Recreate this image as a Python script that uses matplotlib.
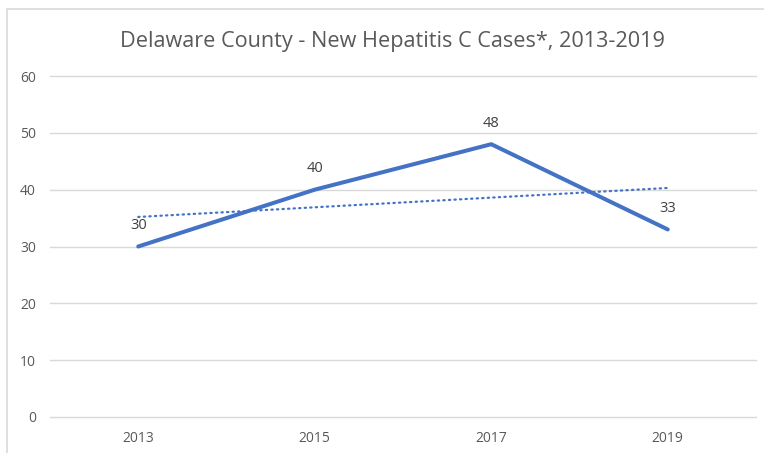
import numpy as np
from matplotlib import pyplot as plt
from matplotlib.patches import Rectangle

# Chart data
years = ["2013", "2015", "2017", "2019"]
cases = [30, 40, 48, 33]
y_ticks = [0, 10, 20, 30, 40, 50, 60]

LINE_BLUE = "#4472C4"
TEXT_GREY = "#595959"
GRID_GREY = "#D9D9D9"

plt.rcParams["font.family"] = ["Open Sans", "DejaVu Sans"]

fig = plt.figure(figsize=(7.64, 4.53), dpi=100)
W, H = 764, 453

# Chart frame (runs off the right and bottom edges)
fig.patches.append(Rectangle((7 / W, -0.1), 1.0, (H - 9) / H + 0.1,
                             transform=fig.transFigure, fill=False,
                             edgecolor=GRID_GREY, linewidth=1.2))

ax = fig.add_axes([50 / W, (H - 417) / H, 706 / W, (417 - 76) / H])

x = np.arange(len(years))
ax.plot(x, cases, color=LINE_BLUE, linewidth=2.9, solid_capstyle="round", zorder=3)

# Linear trendline
slope, intercept = np.polyfit(x, cases, 1)
ax.plot(x, slope * x + intercept, color=LINE_BLUE, linewidth=1.6,
        linestyle=(0, (0.6, 1.9)), dash_capstyle="round", zorder=2)

# Data labels
for xi, v in zip(x, cases):
    ax.annotate(str(v), (xi, v), xytext=(0, 15), textcoords="offset points",
                ha="center", va="center", fontsize=10.5, color="#404040")

ax.set_xlim(-0.5, len(years) - 0.5)
ax.set_ylim(0, 60)
ax.set_yticks(y_ticks)
ax.set_xticks(x)
ax.set_xticklabels(years)
ax.grid(axis="y", color=GRID_GREY, linewidth=1.0)
for gl in ax.get_ygridlines():
    gl.set_clip_on(False)
ax.set_axisbelow(True)
for side in ["top", "right", "left", "bottom"]:
    ax.spines[side].set_visible(False)
ax.tick_params(axis="both", length=0, labelsize=10, labelcolor=TEXT_GREY)
ax.tick_params(axis="y", pad=10)
ax.tick_params(axis="x", pad=10)

fig.text(392 / W, (H - 41) / H, "Delaware County - New Hepatitis C Cases*, 2013-2019",
         ha="center", va="center", fontsize=15.6, color=TEXT_GREY)

plt.savefig("out.png", dpi=100)
